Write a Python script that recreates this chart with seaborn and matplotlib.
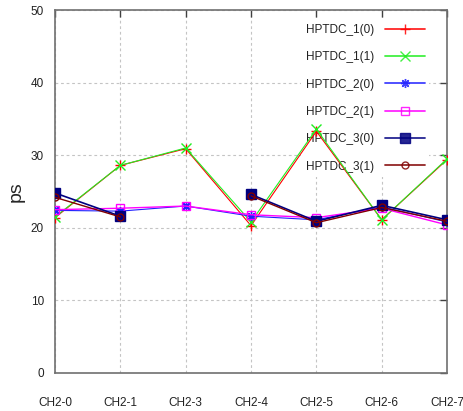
"""
HPTDC channel resolution per CH2 channel, gnuplot-like look
"""

import numpy as np
import pandas as pd
import seaborn as sns
import matplotlib.pyplot as plt
from matplotlib.lines import Line2D

sns.set_style('white')
plt.rcParams['font.family'] = ['Liberation Sans', 'DejaVu Sans']

# Data

channels = ['CH2-0', 'CH2-1', 'CH2-3', 'CH2-4', 'CH2-5', 'CH2-6', 'CH2-7']

hptdc_1_0 = [21.4, 28.6, 30.9, 20.3, 33.3, 21.1, 29.4]
hptdc_1_1 = [21.5, 28.6, 31.0, 20.8, 33.6, 21.1, 29.5]
hptdc_2_0 = [22.4, 22.3, 23.0, 21.6, 21.1, 22.9, 20.8]
hptdc_2_1 = [22.5, 22.7, 23.0, 21.8, 21.4, 22.7, 20.4]
hptdc_3_0 = [24.8, 21.6, np.nan, 24.6, 20.9, 23.1, 21.1]
hptdc_3_1 = [24.2, 21.5, np.nan, 24.4, 20.7, 22.8, 20.9]

series = ['HPTDC_1(0)', 'HPTDC_1(1)', 'HPTDC_2(0)', 'HPTDC_2(1)', 'HPTDC_3(0)', 'HPTDC_3(1)']
values = [hptdc_1_0, hptdc_1_1, hptdc_2_0, hptdc_2_1, hptdc_3_0, hptdc_3_1]

# Styles (gnuplot defaults)

colors = ['#ff0000', '#22ee22', '#2020ff', '#ff00ff', '#000080', '#800000']
markers = ['+', 'x', (8, 2, 0), 's', 's', 'o']
fills = ['full', 'full', 'full', 'none', 'full', 'none']
msizes = [7, 6.5, 6.5, 6, 6.5, 5]
lwidths = [0.8, 0.8, 0.8, 1.0, 1.2, 1.0]

fig = plt.figure(figsize=(4.64, 4.11), dpi=100)
ax = fig.add_axes([0.1185, 0.0925, 0.845, 0.883])

handles = []
for name, vals, c, m, f, ms, lw in zip(series, values, colors, markers, fills, msizes, lwidths):
    df = pd.DataFrame({'x': np.arange(len(channels)), 'y': vals})
    # break the line where a value is missing
    df['seg'] = df['y'].isna().cumsum()
    df = df.dropna()
    sns.lineplot(data=df, x='x', y='y', units='seg', estimator=None, ax=ax,
                 color=c, marker=m, markersize=ms, fillstyle=f, lw=lw,
                 markeredgecolor=c, markeredgewidth=1.0, zorder=3)
    handles.append(Line2D([], [], color=c, marker=m, markersize=ms, fillstyle=f,
                          lw=1.3, alpha=0.85, markeredgecolor=c, markeredgewidth=1.0, label=name))

# Axes formatting

ax.set_xlim(0, len(channels) - 1)
ax.set_ylim(0, 50)
ax.set_xticks(np.arange(len(channels)))
ax.set_xticklabels(channels)
ax.set_yticks([0, 10, 20, 30, 40, 50])
ax.set_xlabel('')
ax.set_ylabel('ps', fontsize=14, labelpad=4)

ax.grid(True, color='#c4c4c4', ls=(0, (2.5, 2.5)), lw=0.8)
ax.set_axisbelow(True)
for s in ax.spines.values():
    s.set_color('#707070')
    s.set_linewidth(1.2)

ax.tick_params(axis='both', direction='in', length=5, width=1, color='#404040',
               top=True, right=True, labelsize=8.5, labelcolor='#222222')
ax.tick_params(axis='x', pad=17)
ax.tick_params(axis='y', pad=8)

leg = ax.legend(handles=handles, loc='upper right', bbox_to_anchor=(0.955, 0.975),
                markerfirst=False, frameon=True, fontsize=8.5, labelspacing=1.3,
                handlelength=3.4, handletextpad=0.9, borderaxespad=0)
leg.get_frame().set_edgecolor('none')
leg.get_frame().set_facecolor('white')
leg.get_frame().set_alpha(1)
leg.set_zorder(1.5)
for t in leg.get_texts():
    t.set_color('#222222')

plt.savefig('out.png', dpi=100)
